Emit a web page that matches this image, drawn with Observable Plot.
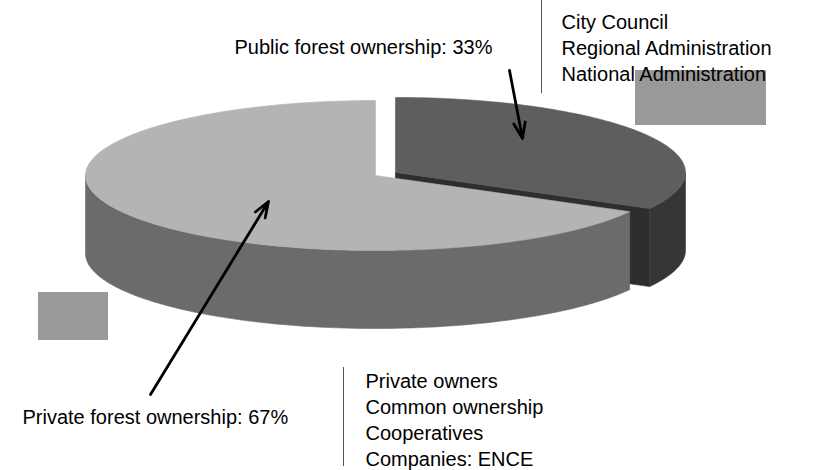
<!DOCTYPE html>
<html>
<head>
<meta charset="utf-8">
<script src="https://cdn.jsdelivr.net/npm/d3@7"></script>
<script src="https://cdn.jsdelivr.net/npm/@observablehq/plot@0.6"></script>
<style>
  html, body { margin: 0; padding: 0; background: #fff; }
  #chart svg { display: block; }
</style>
</head>
<body>
<div id="chart"></div>
<script>
// ---- data ----
const slices = ["Private", "Public"];
const shares = [67, 33];
const sliceLabels = ["Private forest ownership: 67%", "Public forest ownership: 33%"];
const publicItems = ["City Council", "Regional Administration", "National Administration"];
const privateItems = ["Private owners", "Common ownership", "Cooperatives", "Companies: ENCE"];

// ---- layout / style ----
const W = 813, H = 470;
const pie = {cx: 375, cy: 175, rx: 290, ry: 75, depth: 78, explode: [0, 0.08]};
const colors = {
  Private: {top: "#b4b4b4", wall: "#6b6b6b", cut: "#5a5a5a"},
  Public: {top: "#5e5e5e", wall: "#363636", cut: "#2e2e2e"}
};
const font = "Liberation Sans, Arial, sans-serif";

// ---- geometry from shares ----
const total = d3.sum(shares);
let acc = 90;
const geo = slices.map((name, i) => {
  const a0 = acc, a1 = acc + 360 * shares[i] / total;
  acc = a1;
  const mid = (a0 + a1) / 2 * Math.PI / 180;
  const e = pie.explode[i];
  return {name, a0, a1, mid,
    dx: e * pie.rx * Math.cos(mid), dy: -e * pie.ry * Math.sin(mid)};
});
const rad = a => a * Math.PI / 180;
function pt(g, a, z) {
  return {x: pie.cx + g.dx + pie.rx * Math.cos(rad(a)),
          y: pie.cy + g.dy - pie.ry * Math.sin(rad(a)) + z};
}
function arc(g, from, to, z) {
  const n = Math.max(2, Math.ceil(Math.abs(to - from) / 1.5));
  return d3.range(n + 1).map(k => pt(g, from + (to - from) * k / n, z));
}
const polys = [];
// back slices first
const order = geo.slice().sort((a, b) => Math.sin(b.mid) - Math.sin(a.mid));
for (const g of order) {
  const c = colors[g.name];
  const center = {x: pie.cx + g.dx, y: pie.cy + g.dy};
  // cut faces
  const faces = [[g.a0, g.a0 - 90], [g.a1, g.a1 + 90]];
  for (const [a, n] of faces) {
    if (Math.sin(rad(n)) < -1e-6) {
      const r = pt(g, a, 0);
      polys.push({fill: c.cut, pts: [center, r, {x: r.x, y: r.y + pie.depth},
        {x: center.x, y: center.y + pie.depth}, center]});
    }
  }
  // outer wall: visible where sin < 0 (front half)
  for (let base = 0; base <= 720; base += 360) {
    const lo = Math.max(g.a0, base + 180), hi = Math.min(g.a1, base + 360);
    if (hi > lo) {
      const top = arc(g, lo, hi, 0);
      const bot = arc(g, hi, lo, pie.depth);
      polys.push({fill: c.wall, pts: [...top, ...bot, top[0]]});
    }
  }
  // top face
  const topArc = arc(g, g.a0, g.a1, 0);
  polys.push({fill: c.top, pts: [center, ...topArc, center]});
}

// ---- annotations (layout) ----
const boxes = [
  {x1: 635, x2: 766, y1: 70, y2: 125},
  {x1: 38, x2: 108, y1: 292, y2: 340}
];
const arrows = [
  {x1: 509, y1: 70, x2: 522, y2: 138},
  {x1: 150, y1: 394, x2: 268, y2: 201}
];
const rules = [
  {x: 541, y1: 0, y2: 93},
  {x: 343, y1: 367, y2: 466}
];
const labelPos = [
  {x: 22, y: 417, text: sliceLabels[0]},
  {x: 234, y: 47, text: sliceLabels[1]}
];
const listPos = [
  {x: 561, y: 46.5, text: publicItems.join("\n")},
  {x: 365, y: 418, text: privateItems.join("\n")}
];

const marks = [];
for (const p of polys) {
  marks.push(Plot.line(p.pts, {x: "x", y: "y", fill: p.fill, stroke: p.fill, strokeWidth: 0.6, curve: "linear"}));
}
marks.push(
  Plot.rect(boxes, {x1: "x1", x2: "x2", y1: "y1", y2: "y2", fill: "#999999"}),
  Plot.ruleX(rules, {x: "x", y1: "y1", y2: "y2", stroke: "#555", strokeWidth: 1}),
  Plot.arrow(arrows, {x1: "x1", y1: "y1", x2: "x2", y2: "y2", bend: 0, stroke: "#000", strokeWidth: 2.8, headLength: 9, headAngle: 40}),
  Plot.text(labelPos, {x: "x", y: "y", text: "text", textAnchor: "start", lineAnchor: "middle", fontSize: 20, fontFamily: font, fill: "#000"}),
  Plot.text(listPos, {x: "x", y: "y", text: "text", textAnchor: "start", lineAnchor: "middle", lineHeight: 1.3, fontSize: 20, fontFamily: font, fill: "#000"})
);

const chart = Plot.plot({
  width: W, height: H,
  margin: 0,
  x: {type: "linear", domain: [0, W], range: [0, W], axis: null},
  y: {type: "linear", domain: [0, H], range: [0, H], axis: null},
  style: {background: "#fff", fontFamily: font},
  marks
});
document.getElementById("chart").appendChild(chart);
</script>
</body>
</html>
